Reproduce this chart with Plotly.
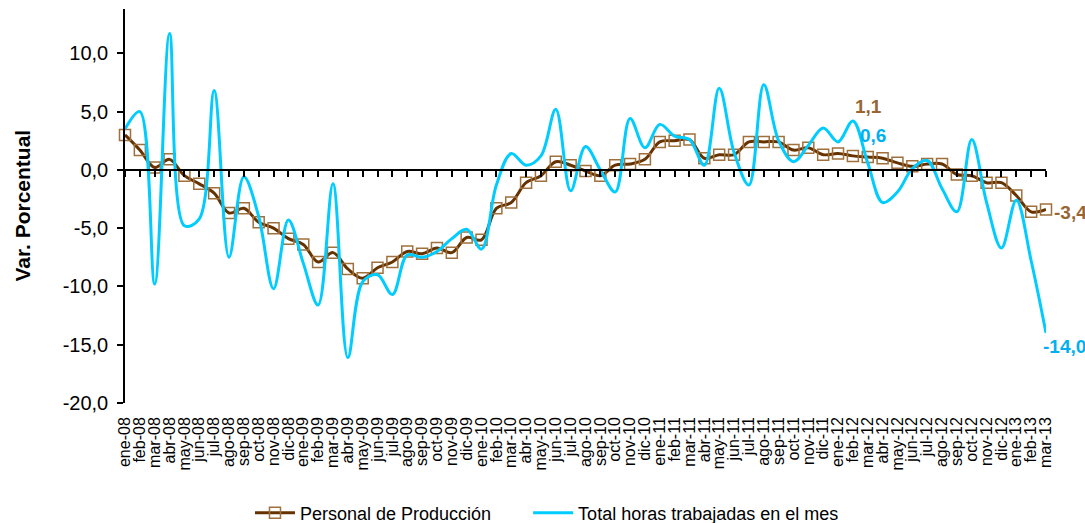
import plotly.graph_objects as go

# meses ene-08 .. mar-13
meses = ["ene", "feb", "mar", "abr", "may", "jun", "jul", "ago", "sep", "oct", "nov", "dic"]
categorias = [f"{m}-{a:02d}" for a in range(8, 14) for m in meses][:63]

personal = [3.0, 1.7, 0.2, 0.9, -0.5, -1.2, -2.0, -3.7, -3.3, -4.5, -5.0, -5.9,
            -6.4, -7.9, -7.1, -8.5, -9.3, -8.4, -7.9, -7.0, -7.2, -6.7, -7.1, -5.8,
            -6.0, -3.3, -2.8, -1.1, -0.5, 0.7, 0.4, -0.1, -0.5, 0.4, 0.5, 0.9,
            2.4, 2.5, 2.6, 1.0, 1.3, 1.3, 2.4, 2.4, 2.4, 1.7, 1.9, 1.3,
            1.4, 1.2, 1.1, 1.0, 0.6, 0.3, 0.5, 0.5, -0.4, -0.5, -1.1, -1.1,
            -2.2, -3.6, -3.4]

horas = [3.5, 5.0, -9.8, 11.7, -4.8, -4.2, 6.8, -7.5, -0.6, -4.0, -10.2, -4.3,
         -8.0, -11.6, -1.2, -16.1, -9.6, -9.0, -10.7, -7.3, -7.5, -7.0, -5.9, -5.1,
         -6.8, -1.3, 1.4, 0.4, 1.2, 5.2, -1.8, 2.0, 0.0, -1.9, 4.4, 1.9,
         3.9, 2.9, 2.6, 0.4, 7.0, 1.5, -1.3, 7.3, 2.5, 0.7, 2.1, 3.6,
         2.4, 4.2, 0.6, -2.8, -1.9, 0.1, 0.8, -1.6, -3.6, 2.6, -2.8, -6.7,
         -2.6, -7.8, -14.0]

y_ticks = [-20, -15, -10, -5, 0, 5, 10]
y_ticktext = ["-20,0", "-15,0", "-10,0", "-5,0", "0,0", "5,0", "10,0"]

marron = "#663300"
marron_claro = "#A0703C"
celeste = "#00CCFF"
celeste_txt = "#00B0F0"

fig = go.Figure()

fig.add_trace(go.Scatter(
    x=categorias, y=personal, name="Personal de Producción",
    mode="lines+markers", legend="legend",
    line=dict(color=marron, width=3, shape="spline", smoothing=1.0),
    marker=dict(symbol="square-open", size=11, color=marron_claro,
                line=dict(width=1.5, color=marron_claro)),
    cliponaxis=False,
))

fig.add_trace(go.Scatter(
    x=categorias, y=horas, name="Total horas trabajadas en el mes",
    mode="lines", xaxis="x2", legend="legend2",
    line=dict(color=celeste, width=3, shape="spline", smoothing=1.0),
    cliponaxis=False,
))

# etiquetas de datos (mar-12 y mar-13)
fuente_lbl = dict(family="Arial", size=19)
i_mar12 = categorias.index("mar-12")
fig.add_annotation(x=categorias[i_mar12], y=personal[i_mar12], text="1,1",
                   showarrow=False, yshift=51, xshift=1,
                   font=dict(fuente_lbl, color="#996633", weight="bold"))
fig.add_annotation(x=categorias[i_mar12], y=horas[i_mar12], text="0,6",
                   showarrow=False, yshift=27, xshift=5,
                   font=dict(fuente_lbl, color=celeste_txt, weight="bold"))
fig.add_annotation(x=categorias[-1], y=personal[-1], text="-3,4",
                   showarrow=False, xanchor="left", xshift=6, yshift=-3,
                   font=dict(fuente_lbl, color="#996633", weight="bold"))
fig.add_annotation(x=categorias[-1], y=horas[-1], text="-14,0",
                   showarrow=False, xanchor="left", xshift=-5, yshift=-13,
                   font=dict(fuente_lbl, color=celeste_txt, weight="bold"))

# titulo del eje y
fig.add_annotation(xref="paper", yref="paper", x=-0.127, y=0.5,
                   text="<b>Var. Porcentual</b>", textangle=-90, showarrow=False,
                   font=dict(family="Arial", size=21, color="black"))

y_min, y_max = -20, 13.8
pos_cero = (0 - y_min) / (y_max - y_min)

leyenda = dict(orientation="h", xanchor="left", y=-0.279, yanchor="middle",
               font=dict(size=18), itemwidth=40, bgcolor="rgba(0,0,0,0)")

fig.update_layout(
    width=1085, height=523,
    margin=dict(l=125, r=39, t=9, b=120, autoexpand=False),
    paper_bgcolor="white", plot_bgcolor="white",
    font=dict(family="Arial", color="black"),
    showlegend=True,
    legend=dict(leyenda, x=0.1357),
    legend2=dict(leyenda, x=0.4377),
    xaxis=dict(type="category", range=[0, len(categorias) - 1], automargin=False,
               tickmode="linear", dtick=1, tickangle=-90, ticklabelstandoff=10,
               tickfont=dict(size=16), showline=False, ticks="",
               showgrid=False, zeroline=False),
    xaxis2=dict(type="category", overlaying="x", matches="x", anchor="free",
                position=pos_cero, showline=True, linecolor="black", linewidth=1.5,
                ticks="outside", ticklen=6, tickcolor="black", tickwidth=1.5,
                tickmode="linear", dtick=1, showticklabels=False, automargin=False,
                showgrid=False, zeroline=False),
    yaxis=dict(range=[y_min, y_max], tickvals=y_ticks, ticktext=y_ticktext,
               automargin=False, ticklabelstandoff=5,
               tickfont=dict(size=20), showline=True, linecolor="black",
               linewidth=1.5, ticks="outside", ticklen=6, tickcolor="black",
               tickwidth=1.5, showgrid=False, zeroline=False),
)

fig.write_html("out.html", config={"displayModeBar": False},
               post_script="document.body.style.margin='0';")
